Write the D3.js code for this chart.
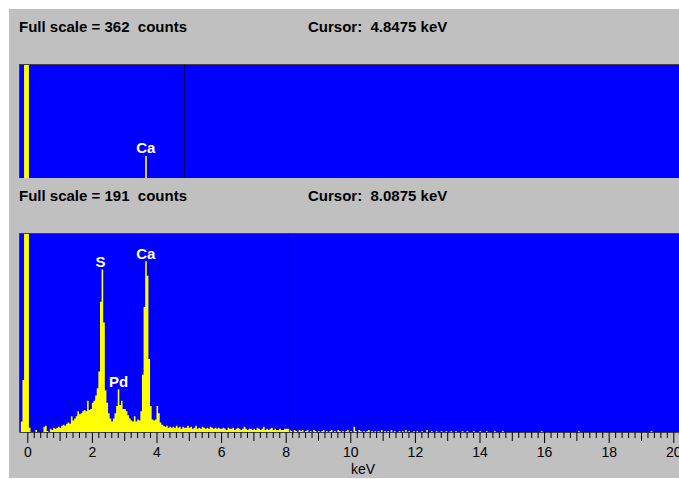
<!DOCTYPE html>
<html>
<head>
<meta charset="utf-8">
<script src="https://cdn.jsdelivr.net/npm/d3@7/dist/d3.min.js"></script>
<style>
  body { margin: 0; background: #fff; }
  svg text { font-family: "Liberation Sans", Arial, sans-serif; white-space: pre; }
</style>
</head>
<body>
<svg id="chart" width="679" height="479"></svg>
<script>

// channel width and the energy of the first channel (keV)
var binWidth = 0.05;
var startEnergy = -0.2;

// lower spectrum, one row per keV (20 channels of 0.05 keV)
var bottomCounts = [].concat(
  [10, 50, 400, 400],                                                        // -0.2 .. 0
  [400, 4, 0, 0, 0, 2, 0, 0, 0, 0, 5, 6, 1, 0, 3, 2, 4, 3, 4, 5],            // 0
  [4, 6, 7, 6, 8, 9, 8, 15, 11, 13, 15, 20, 17, 18, 20, 21, 20, 30, 21, 22], // 1
  [28, 30, 35, 42, 58, 125, 156, 105, 40, 28, 18, 13, 10, 13, 18, 25, 41, 26, 30, 22], // 2
  [22, 20, 16, 13, 11, 10, 15, 10, 12, 11, 20, 55, 120, 164, 150, 70, 25, 12, 11, 12], // 3
  [25, 18, 9, 7, 6, 5, 6, 4, 5, 4, 5, 4, 6, 4, 5, 3, 5, 4, 4, 6],            // 4
  [4, 5, 3, 4, 6, 3, 4, 3, 5, 4, 3, 4, 3, 5, 4, 3, 4, 3, 4, 3],              // 5
  [3, 4, 3, 2, 4, 3, 3, 4, 2, 3, 4, 3, 2, 3, 5, 3, 2, 3, 3, 2],              // 6
  [3, 2, 4, 3, 2, 3, 5, 2, 3, 2, 3, 4, 2, 3, 2, 2, 3, 2, 2, 3],              // 7
  [3, 3, 2, 1, 0, 2, 1, 0, 2, 1, 2, 0, 1, 2, 0, 1, 0, 2, 1, 0],              // 8
  [1, 0, 1, 2, 0, 1, 0, 1, 2, 0, 1, 0, 2, 1, 0, 1, 0, 1, 2, 0],              // 9
  [1, 0, 5, 1, 0, 2, 1, 0, 1, 0, 1, 2, 0, 1, 0, 1, 0, 1, 0, 2],              // 10
  [0, 1, 0, 1, 0, 2, 0, 1, 0, 0, 1, 0, 1, 0, 2, 0, 1, 0, 0, 1],              // 11
  [0, 1, 0, 0, 1, 0, 0, 2, 0, 0, 1, 0, 0, 1, 0, 0, 1, 0, 0, 1],              // 12
  [0, 0, 1, 0, 0, 1, 0, 0, 0, 1, 0, 0, 1, 0, 0, 0, 1, 0, 0, 0],              // 13
  [1, 0, 0, 0, 1, 0, 0, 0, 0, 1, 0, 0, 0, 0, 1, 0, 0, 0, 0, 0],              // 14
  [0, 0, 0, 0, 0, 0, 0, 0, 0, 0, 0, 0, 0, 0, 0, 0, 0, 0, 1, 0],              // 15
  [0, 0, 0, 0, 0, 0, 0, 0, 0, 0, 0, 0, 0, 0, 0, 0, 0, 0, 0, 0],              // 16
  [0, 1, 0, 0, 0, 0, 0, 0, 0, 0, 0, 0, 0, 0, 0, 0, 0, 0, 0, 0],              // 17
  [0, 0, 0, 0, 0, 0, 0, 0, 0, 0, 0, 0, 0, 0, 0, 0, 0, 0, 0, 0],              // 18
  [0, 0, 0, 0, 0, 0, 1, 0, 0, 0, 0, 0, 0, 0, 0, 0, 0, 0, 0, 0]               // 19
);

// upper spectrum: only a few channels are non empty
var topEnergies = [-0.1, -0.05, 0, 3.65];
var topCounts = [900, 900, 900, 70];

var panels = [
  { fullScale: 362, cursor: 4.8475, labels: ["Ca"], labelEnergies: [3.67] },
  { fullScale: 191, cursor: 8.0875, labels: ["S", "Pd", "Ca"], labelEnergies: [2.27, 2.83, 3.67] }
];

var tickValues = d3.range(0, 101).map(function(i) { return i * 0.2; });

var svg = d3.select("#chart");

svg.append("rect")
  .attr("x", 9).attr("y", 9)
  .attr("width", 670).attr("height", 469)
  .attr("fill", "#c0c0c0");

var x = d3.scaleLinear()
  .domain([0, 20])
  .range([27.3, 673.3]);

var panelLeft = 19.5, panelRight = 679;

function makeBins(energies, counts) {
  return energies.map(function(e, i) { return { e: e, c: counts[i] }; });
}

var bottomBins = bottomCounts.map(function(c, i) {
  return { e: startEnergy + i * binWidth, c: c };
});
var topBins = makeBins(topEnergies, topCounts);

function drawPanel(p, bins, top, height, headerY, idx) {

  var g = svg.append("g");

  g.append("text")
    .attr("x", 19).attr("y", headerY)
    .attr("font-size", 15).attr("font-weight", "bold")
    .text("Full scale = " + p.fullScale + "  counts");

  g.append("text")
    .attr("x", 308).attr("y", headerY)
    .attr("font-size", 15).attr("font-weight", "bold")
    .text("Cursor:  " + p.cursor.toFixed(4) + " keV");

  var y = d3.scaleLinear()
    .domain([0, p.fullScale])
    .range([top + height, top])
    .clamp(true);

  g.append("clipPath").attr("id", "clip" + idx)
    .append("rect")
    .attr("x", panelLeft).attr("y", top)
    .attr("width", panelRight - panelLeft).attr("height", height);

  g.append("rect")
    .attr("x", panelLeft).attr("y", top)
    .attr("width", panelRight - panelLeft).attr("height", height)
    .attr("fill", "#0000ff");

  // each channel as a flat top step
  var pts = [];
  bins.forEach(function(b) {
    pts.push([b.e, 0], [b.e, b.c], [b.e + binWidth, b.c], [b.e + binWidth, 0]);
  });

  var area = d3.area()
    .x(function(d) { return x(d[0]); })
    .y0(y(0))
    .y1(function(d) { return y(d[1]); });

  g.append("path")
    .attr("clip-path", "url(#clip" + idx + ")")
    .attr("d", area(pts))
    .attr("fill", "#ffff00");

  // cursor, red where it crosses the spectrum
  var cbin = bins.find(function(b) { return p.cursor >= b.e && p.cursor < b.e + binWidth; });
  var ccount = cbin ? cbin.c : 0;
  var cx = Math.round(x(p.cursor)) + 0.5;
  g.append("line")
    .attr("x1", cx).attr("x2", cx)
    .attr("y1", top).attr("y2", y(ccount))
    .attr("stroke", "#000070").attr("stroke-width", 1);
  if (ccount > 0) {
    g.append("line")
      .attr("x1", cx).attr("x2", cx)
      .attr("y1", y(ccount)).attr("y2", y(0))
      .attr("stroke", "#ff0000").attr("stroke-width", 1);
  }

  // sunken border on top and left
  g.append("path")
    .attr("d", "M" + (panelLeft) + "," + (top + height) + "V" + (top + 0.5) + "H" + panelRight)
    .attr("fill", "none")
    .attr("stroke", "#404040").attr("stroke-width", 1);

  // peak labels
  p.labels.forEach(function(lab, i) {
    var e = p.labelEnergies[i];
    var peak = d3.max(bins.filter(function(b) { return Math.abs(b.e + binWidth / 2 - e) < 0.06; }),
      function(b) { return b.c; });
    g.append("text")
      .attr("x", x(e)).attr("y", y(peak) - 2.5)
      .attr("text-anchor", "middle")
      .attr("font-size", 15).attr("font-weight", "bold")
      .attr("fill", "#ffffff")
      .text(lab);
  });

  return y;
}

drawPanel(panels[0], topBins, 64, 114, 31.5, 0);
var yb = drawPanel(panels[1], bottomBins, 233, 199, 200.5, 1);

// ruler under the lower spectrum
var base = yb(0);
svg.append("line")
  .attr("x1", panelLeft).attr("x2", panelRight)
  .attr("y1", base + 0.5).attr("y2", base + 0.5)
  .attr("stroke", "#404040");

var xAxis = d3.axisBottom(x)
  .tickValues(tickValues)
  .tickSize(6)
  .tickFormat(function(d) {
    var k = Math.round(d * 5);
    return (k % 10 == 0) ? d3.format("d")(Math.round(d)) : "";
  });

var axisG = svg.append("g")
  .attr("transform", "translate(0," + base + ")")
  .call(xAxis);

axisG.select(".domain").remove();
axisG.selectAll(".tick line")
  .attr("stroke", "#000")
  .attr("y2", function(d) {
    var k = Math.round(d * 5);
    if (k % 10 == 0) return 11;
    if (k % 5 == 0) return 9;
    return 6;
  });
axisG.selectAll(".tick text")
  .attr("y", 25).attr("dy", null)
  .attr("fill", "#000")
  .attr("font-size", 14)
  .attr("font-family", "Liberation Sans, Arial, sans-serif");

svg.append("text")
  .attr("x", 363).attr("y", 474)
  .attr("text-anchor", "middle")
  .attr("font-size", 14)
  .text("keV");

</script>
</body>
</html>
